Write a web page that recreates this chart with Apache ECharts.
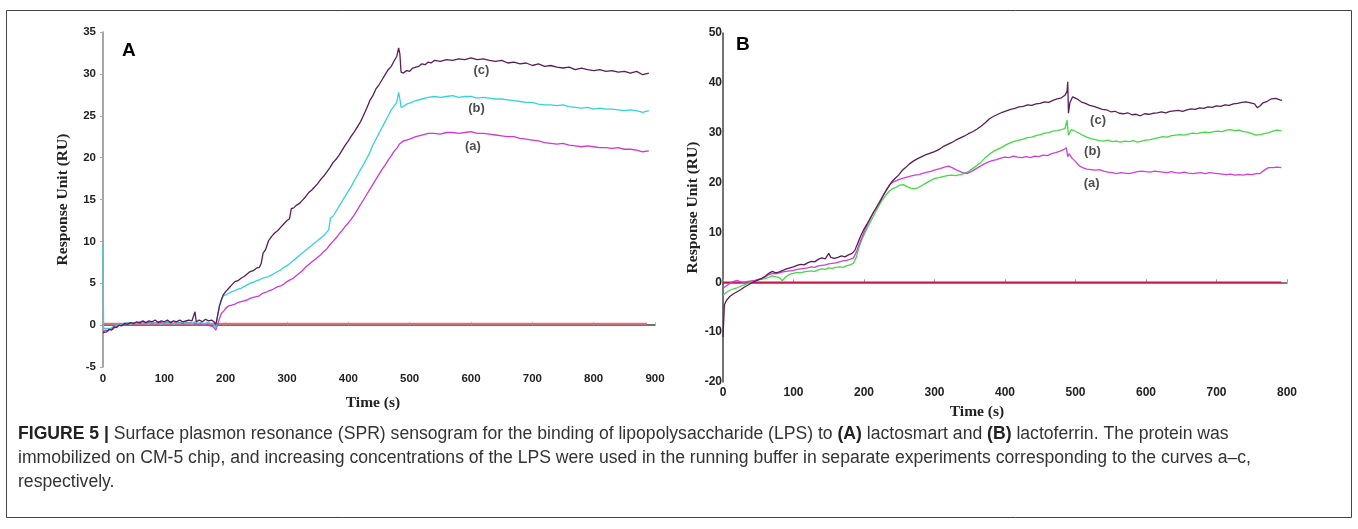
<!DOCTYPE html>
<html>
<head>
<meta charset="utf-8">
<script src="https://cdn.jsdelivr.net/npm/echarts@6/dist/echarts.min.js"></script>
<style>
  html, body { margin: 0; padding: 0; background: #fff; }
  #chart { width: 1358px; height: 529px; }
</style>
</head>
<body>
<div id="chart"></div>
<script>
// ---- panel A : lactosmart (time s, response RU) ----
var a_curveC = [[0,-0.9],[3,-0.7],[6,-0.8],[10,-0.5],[14,-0.6],[18,-0.2],[22,-0.3],[26,0.0],[30,-0.1],[35,0.2],[40,0.1],[45,0.3],[50,0.2],[55,0.4],[60,0.3],[65,0.5],[70,0.3],[75,0.5],[80,0.4],[85,0.6],[90,0.3],[95,0.5],[100,0.4],[105,0.6],[110,0.3],[115,0.5],[120,0.4],[125,0.6],[130,0.4],[135,0.5],[140,0.6],[145,0.5],[148,0.7],[150,1.6],[152,0.4],[157,0.6],[162,0.4],[167,0.7],[172,0.5],[177,0.6],[181,0.4],[184,0.1],
  [187,1.2],[190,2.3],[193,3.0],[196,3.6],[200,4.0],[205,4.4],[210,4.8],[215,5.2],[220,5.3],[225,5.6],[230,5.8],[235,6.1],[240,6.4],[245,6.5],[250,6.8],[255,6.9],[258,7.4],[261,8.6],[265,9.0],[270,10.1],[275,10.6],[280,11.0],[285,11.3],[290,11.7],[295,12.1],[300,12.5],[304,12.7],[307,13.9],[311,14.0],[315,14.3],[320,14.5],[325,14.9],[330,15.3],[335,15.8],[340,16.1],[345,16.5],[350,16.9],[355,17.4],[360,17.8],[365,18.3],[370,18.8],[375,19.4],[380,19.8],[385,20.3],[390,20.9],[395,21.5],[400,22.0],[405,22.6],[410,23.1],[415,23.7],[420,24.3],[425,25.1],[430,25.9],[435,26.8],[440,27.4],[445,28.2],[450,28.7],[455,29.3],[460,29.9],[465,30.5],[470,30.9],[475,31.6],[479,32.1],[482,33.1],[484,32.4],[486,30.2],
  [490,30.1],[495,30.4],[500,30.3],[505,30.7],[510,30.8],[515,30.9],[520,31.2],[525,31.1],[530,31.4],[535,31.3],[540,31.6],[550,31.5],[560,31.7],[570,31.6],[580,31.8],[590,31.7],[600,31.9],[610,31.7],[620,31.8],[630,31.6],[640,31.5],[650,31.6],[660,31.3],[670,31.4],[680,31.2],[690,31.3],[700,31.0],[710,31.2],[720,30.9],[730,31.0],[740,30.8],[750,30.7],[760,30.8],[770,30.5],[780,30.7],[790,30.5],[800,30.4],[810,30.5],[820,30.3],[830,30.4],[840,30.2],[850,30.3],[860,30.1],[870,30.3],[880,29.9],[890,30.1]];

var a_curveB = [[0,9.6],[1,-0.4],[4,-0.6],[8,-0.4],[12,-0.5],[16,-0.2],[20,-0.1],[25,0.1],[30,0.0],[35,0.2],[40,0.3],[45,0.1],[50,0.3],[55,0.2],[60,0.4],[65,0.2],[70,0.3],[75,0.1],[80,0.4],[85,0.2],[90,0.3],[95,0.1],[100,0.3],[105,0.2],[110,0.4],[115,0.1],[120,0.3],[125,0.2],[130,0.4],[135,0.2],[140,0.3],[145,0.1],[150,0.4],[155,0.2],[160,0.3],[165,0.1],[170,0.3],[175,0.2],[180,0.1],[184,-0.3],
  [187,1.2],[190,2.4],[193,3.1],[196,3.5],[200,3.6],[205,3.8],[210,4.0],[215,4.1],[220,4.3],[225,4.4],[230,4.6],[235,4.8],[240,5.0],[245,5.1],[250,5.3],[255,5.4],[260,5.6],[265,5.7],[270,5.8],[275,6.0],[280,6.2],[285,6.4],[290,6.6],[295,6.9],[300,7.1],[305,7.4],[310,7.7],[315,8.0],[320,8.3],[325,8.6],[330,8.9],[335,9.2],[340,9.5],[345,9.8],[350,10.1],[355,10.4],[360,10.7],[365,11.1],[368,11.4],[371,12.8],[375,13.0],[380,13.6],[385,14.2],[390,14.8],[395,15.4],[400,16.0],[405,16.6],[410,17.3],[415,17.9],[420,18.6],[425,19.2],[430,19.9],[435,20.6],[440,21.5],[445,22.2],[450,22.9],[455,23.6],[460,24.3],[465,25.0],[470,25.7],[475,26.2],[479,26.6],[482,27.8],[484,27.0],[486,26.0],
  [490,26.1],[495,26.4],[500,26.5],[510,26.8],[520,27.0],[530,27.2],[540,27.3],[550,27.2],[560,27.3],[570,27.4],[580,27.2],[590,27.3],[600,27.3],[610,27.1],[620,27.2],[630,27.1],[640,27.0],[650,27.0],[660,26.9],[670,26.8],[680,26.7],[690,26.6],[700,26.6],[710,26.4],[720,26.3],[730,26.3],[740,26.2],[750,26.3],[760,26.1],[770,26.0],[780,25.9],[790,26.0],[800,25.8],[810,25.9],[820,25.8],[830,25.8],[840,25.7],[850,25.6],[860,25.7],[870,25.6],[880,25.4],[890,25.6]];

var a_curveA = [[0,-0.8],[4,-0.6],[8,-0.7],[12,-0.4],[16,-0.5],[20,-0.2],[25,-0.1],[30,0.1],[35,0.0],[40,0.2],[45,0.3],[50,0.1],[55,0.3],[60,0.2],[65,0.4],[70,0.2],[75,0.3],[80,0.4],[85,0.2],[90,0.4],[95,0.3],[100,0.2],[105,0.4],[110,0.3],[115,0.2],[120,0.4],[125,0.3],[130,0.2],[135,0.4],[140,0.3],[145,0.2],[150,0.3],[155,0.1],[160,0.2],[165,0.0],[170,0.1],[175,-0.1],[180,-0.2],[184,-0.6],
  [187,0.1],[190,0.8],[193,1.4],[197,1.7],[200,2.0],[205,2.3],[210,2.4],[215,2.5],[220,2.7],[225,2.8],[230,2.9],[235,3.0],[240,3.2],[245,3.3],[250,3.4],[255,3.5],[260,3.8],[265,3.9],[270,4.1],[275,4.2],[280,4.4],[285,4.6],[290,4.7],[295,4.9],[300,5.2],[305,5.4],[310,5.6],[315,5.9],[320,6.2],[325,6.5],[330,6.9],[335,7.2],[340,7.5],[345,7.8],[350,8.1],[355,8.4],[360,8.8],[365,9.1],[370,9.6],[375,10.0],[380,10.4],[385,10.9],[390,11.3],[395,11.8],[400,12.2],[405,12.7],[410,13.2],[415,13.8],[420,14.4],[425,15.0],[430,15.6],[435,16.2],[440,16.8],[445,17.4],[450,18.0],[455,18.6],[460,19.1],[465,19.7],[470,20.2],[475,20.8],[480,21.2],[483,21.6],[486,21.4],
  [490,22.0],[495,22.1],[500,22.2],[510,22.5],[520,22.7],[530,22.9],[540,22.9],[550,22.8],[560,23.0],[570,23.0],[580,22.9],[590,23.0],[600,23.1],[610,22.9],[620,22.9],[630,22.8],[640,22.7],[650,22.6],[660,22.5],[670,22.5],[680,22.3],[690,22.2],[700,22.1],[710,22.0],[720,21.8],[730,21.7],[740,21.6],[750,21.7],[760,21.5],[770,21.4],[780,21.3],[790,21.4],[800,21.3],[810,21.2],[820,21.2],[830,21.1],[840,21.2],[850,21.0],[860,21.0],[870,20.9],[880,20.7],[890,20.8]];

var a_baseline = [[0,0.15],[887,0.15]];
var a_labelNames = ['(c)', '(b)', '(a)'];
var a_labelAt = [[617,30.4],[609,25.9],[603,21.3]];

// ---- panel B : lactoferrin ----
var b_curveC = [[0,-11],[2,-4.5],[5,-3.6],[10,-2.8],[15,-2.3],[20,-1.9],[25,-1.5],[30,-1.0],[35,-0.6],[40,-0.2],[45,0.2],[50,0.5],[55,0.8],[60,1.2],[65,1.8],[70,2.2],[75,1.9],[80,2.1],[85,2.4],[90,2.7],[95,2.9],[100,3.1],[105,3.4],[110,3.6],[115,3.5],[120,3.9],[125,4.2],[130,4.1],[135,4.6],[140,4.9],[145,4.7],[150,5.8],[153,5.0],[158,4.8],[163,5.0],[168,5.3],[173,5.1],[178,5.5],[183,5.8],[187,6.4],[191,7.8],[195,9.2],[199,10.4],[204,11.6],[209,12.9],[214,14.2],[219,15.3],[224,16.5],[229,17.8],[234,19.0],[239,20.1],[244,20.8],[249,21.5],[254,22.4],[259,23.0],[264,23.7],[270,24.3],[276,24.8],[282,25.2],[288,25.6],[294,25.9],[300,26.2],[306,26.6],[312,27.2],[318,27.6],[324,28.0],[330,28.5],[336,28.9],[342,29.3],[348,29.8],[354,30.2],[360,30.7],[366,31.3],[372,32.0],[378,32.8],[384,33.3],[390,33.7],[396,34.1],[402,34.4],[408,34.7],[414,34.9],[420,35.2],[426,35.3],[432,35.6],[438,35.5],[444,35.8],[450,35.9],[456,36.2],[462,36.1],[468,36.5],[474,36.8],[480,37.0],[485,37.5],[488,38.3],[489,40.2],[490,33.9],[492,36.0],[496,37.2],[502,36.8],[508,36.2],[514,35.9],[520,35.5],[526,35.3],[532,35.0],[538,34.7],[544,34.6],[550,34.2],[556,34.3],[562,33.9],[568,33.8],[574,34.0],[580,33.6],[586,33.7],[592,33.4],[598,33.8],[604,33.7],[610,33.9],[616,34.0],[622,34.2],[628,34.0],[634,34.3],[640,34.4],[646,34.5],[652,34.3],[658,34.6],[664,34.8],[670,34.7],[676,35.0],[682,34.9],[688,35.2],[694,35.1],[700,35.4],[706,35.3],[712,35.6],[718,35.5],[724,35.8],[730,35.9],[736,36.1],[742,36.2],[748,36.0],[754,35.8],[758,35.0],[762,35.4],[766,36.0],[772,36.3],[778,36.8],[784,36.9],[790,36.6],[793,36.5]];

var b_curveB = [[0,-2.6],[5,-2.0],[10,-1.6],[15,-1.3],[20,-1.1],[25,-0.8],[30,-0.5],[35,-0.2],[40,0.1],[45,0.3],[50,0.5],[55,0.6],[60,0.8],[65,1.0],[70,1.3],[75,1.1],[80,1.0],[84,0.3],[86,0.0],[88,0.9],[92,1.4],[96,1.7],[100,1.8],[105,2.0],[110,1.9],[115,2.1],[120,2.2],[125,2.3],[130,2.2],[135,2.5],[140,2.7],[145,2.6],[150,2.9],[155,2.8],[160,3.0],[165,3.1],[170,3.0],[175,3.3],[180,3.5],[185,3.8],[189,5.0],[193,7.0],[197,8.6],[201,9.8],[206,11.3],[211,12.6],[216,14.0],[221,15.3],[226,16.5],[231,17.5],[236,18.3],[241,18.8],[246,19.1],[251,19.5],[256,19.6],[261,19.2],[266,18.9],[271,18.8],[276,18.9],[282,19.4],[288,19.9],[294,20.4],[300,20.8],[306,21.0],[312,21.2],[318,21.4],[324,21.5],[330,21.4],[336,21.6],[342,21.8],[348,22.2],[354,22.8],[360,23.4],[366,24.1],[372,25.0],[378,25.7],[384,26.3],[390,26.7],[396,27.1],[402,27.6],[408,28.0],[414,28.3],[420,28.5],[426,28.7],[432,29.0],[438,29.1],[444,29.4],[450,29.6],[456,29.9],[462,30.0],[468,30.3],[474,30.4],[480,30.6],[485,30.8],[488,32.5],[490,29.5],[494,30.6],[498,30.4],[504,30.0],[510,29.5],[516,29.1],[522,28.8],[528,28.6],[534,28.4],[540,28.3],[546,28.5],[552,28.2],[558,28.3],[564,28.1],[570,28.3],[576,28.2],[582,28.4],[588,28.1],[594,28.3],[600,28.5],[606,28.6],[612,28.8],[618,29.0],[624,29.2],[630,29.1],[636,29.4],[642,29.5],[648,29.6],[654,29.5],[660,29.7],[666,29.9],[672,29.8],[678,30.0],[684,30.1],[690,30.0],[696,30.2],[702,30.3],[708,30.2],[714,30.5],[720,30.6],[726,30.4],[732,30.5],[738,30.2],[744,30.1],[750,29.8],[756,29.5],[762,29.6],[768,29.8],[774,30.0],[780,30.3],[786,30.5],[792,30.4]];

var b_curveA = [[0,-1.2],[3,-0.9],[6,-0.6],[10,-0.2],[15,0.2],[20,0.4],[25,0.1],[30,0.0],[35,0.2],[40,0.3],[45,0.4],[50,0.6],[55,0.8],[60,1.1],[65,1.5],[70,1.8],[75,1.7],[80,1.9],[85,2.1],[90,2.2],[95,2.3],[100,2.4],[105,2.6],[110,2.7],[115,2.8],[120,2.9],[125,3.1],[130,3.0],[135,3.3],[140,3.4],[145,3.5],[150,3.7],[155,3.8],[160,3.9],[165,4.1],[170,4.3],[175,4.4],[180,4.6],[185,4.9],[189,6.0],[193,7.6],[197,9.0],[201,10.4],[206,11.9],[211,13.3],[216,14.6],[221,15.9],[226,17.2],[231,18.4],[236,19.5],[241,20.1],[246,20.4],[251,20.7],[256,20.9],[261,21.1],[266,21.3],[272,21.5],[278,21.6],[284,21.9],[290,22.1],[296,22.3],[302,22.6],[308,22.8],[314,23.1],[320,23.3],[325,23.0],[330,22.6],[335,22.3],[340,22.0],[346,21.8],[352,22.2],[358,22.7],[364,23.2],[370,23.7],[376,24.1],[382,24.4],[388,24.6],[394,24.9],[400,25.1],[406,25.0],[412,25.3],[418,25.1],[424,25.0],[430,25.2],[436,25.0],[442,25.3],[448,25.2],[454,25.5],[460,25.4],[466,25.8],[472,26.0],[478,26.3],[483,26.6],[487,27.0],[489,25.2],[491,25.8],[495,24.9],[500,24.2],[505,23.4],[510,23.0],[516,22.7],[522,22.6],[528,22.5],[534,22.6],[540,22.3],[546,22.1],[552,22.0],[558,21.8],[564,22.0],[570,21.9],[576,21.8],[582,22.0],[588,22.2],[594,22.3],[600,22.2],[606,22.1],[612,22.3],[618,22.2],[624,22.1],[630,22.0],[636,22.2],[642,22.0],[648,21.9],[654,22.1],[660,21.9],[666,21.8],[672,21.9],[678,22.0],[684,21.8],[690,22.0],[696,21.9],[702,21.8],[708,21.7],[714,21.6],[720,21.7],[726,21.5],[732,21.6],[738,21.5],[744,21.7],[750,21.6],[756,21.8],[762,21.8],[766,22.3],[770,22.7],[774,23.0],[780,23.0],[786,23.1],[792,23.0]];

var b_baseline = [[0,0],[792,0]];
var b_labelNames = ['(c)', '(b)', '(a)'];
var b_labelAt = [[532,32.5],[524,26.2],[523,19.8]];

var captionLines = [
  '{b|FIGURE 5 |} Surface plasmon resonance (SPR) sensogram for the binding of lipopolysaccharide (LPS) to {b|(A)} lactosmart and {b|(B)} lactoferrin. The protein was',
  'immobilized on CM-5 chip, and increasing concentrations of the LPS were used in the running buffer in separate experiments corresponding to the curves a\u2013c,',
  'respectively.'
];

var chart = echarts.init(document.getElementById('chart'));

function line(data, color, xi, width) {
  return {
    type: 'line', data: data, xAxisIndex: xi, yAxisIndex: xi,
    showSymbol: false, symbol: 'none', silent: true,
    lineStyle: { color: color, width: width || 1.3 }
  };
}

function labels(names, pos, xi) {
  return {
    type: 'scatter', xAxisIndex: xi, yAxisIndex: xi, symbolSize: 0, silent: true,
    data: names.map(function (n, i) { return { name: n, value: pos[i] }; }),
    label: {
      show: true, position: 'inside', formatter: '{b}',
      fontFamily: 'Liberation Sans', fontWeight: 'bold', fontSize: 13, color: '#222'
    }
  };
}

var tickFont = { fontFamily: 'Liberation Sans', fontWeight: 'bold', color: '#222' };
var titleFont = { fontFamily: 'Liberation Serif', fontWeight: 'bold', fontSize: 15.5, color: '#222' };
var capSize = 17.6;

var option = {
  animation: false,
  grid: [
    { left: 103, right: 703, top: 32, bottom: 162 },
    { left: 723, right: 71, top: 33, bottom: 147 }
  ],
  xAxis: [
    {
      gridIndex: 0, type: 'value', min: 0, max: 900, interval: 100,
      axisLine: { lineStyle: { color: '#444', width: 1.5 } },
      axisTick: { inside: true, length: 3, lineStyle: { color: '#bbb' } },
      axisLabel: Object.assign({ fontSize: 11.5, margin: 6 }, tickFont),
      splitLine: { show: false },
      name: 'Time (s)', nameLocation: 'middle', nameGap: 28,
      nameTextStyle: Object.assign({ padding: [0, 12, 0, 0] }, titleFont)
    },
    {
      gridIndex: 1, type: 'value', min: 0, max: 800, interval: 100,
      axisLine: { lineStyle: { color: '#555', width: 1.5 } },
      axisTick: { inside: true, length: 3, lineStyle: { color: '#999' } },
      axisLabel: Object.assign({ fontSize: 12, margin: 5 }, tickFont),
      splitLine: { show: false },
      name: 'Time (s)', nameLocation: 'middle', nameGap: 18,
      nameTextStyle: Object.assign({ padding: [0, 56, 0, 0] }, titleFont)
    }
  ],
  yAxis: [
    {
      gridIndex: 0, type: 'value', min: -5, max: 35, interval: 5,
      axisLine: { show: true, lineStyle: { color: '#888', width: 1.5 } },
      axisTick: { show: true, length: 3, lineStyle: { color: '#aaa' } },
      axisLabel: Object.assign({ fontSize: 11.5, margin: 7 }, tickFont),
      splitLine: { show: false },
      name: 'Response Unit (RU)', nameLocation: 'middle', nameGap: 32, nameRotate: 90,
      nameTextStyle: titleFont
    },
    {
      gridIndex: 1, type: 'value', min: -20, max: 50, interval: 10,
      axisLine: { show: true, lineStyle: { color: '#444', width: 1.5 } },
      axisTick: { show: false },
      axisLabel: Object.assign({ fontSize: 12, margin: 1 }, tickFont),
      splitLine: { show: false },
      name: 'Response Unit (RU)', nameLocation: 'middle', nameGap: 14, nameRotate: 90,
      nameTextStyle: titleFont
    }
  ],
  series: [
    line(a_baseline, '#e0707c', 0, 2),
    line(a_curveA, '#cc3acc', 0),
    line(a_curveB, '#35d3d8', 0),
    line(a_curveC, '#5a1d5c', 0),
    labels(a_labelNames, a_labelAt, 0),
    line(b_baseline, '#c81848', 1, 1.5),
    line(b_curveB, '#45d845', 1),
    line(b_curveA, '#d23fd8', 1),
    line(b_curveC, '#5a1f5a', 1),
    labels(b_labelNames, b_labelAt, 1)
  ],
  graphic: [
    {
      type: 'rect', silent: true,
      shape: { x: 6.5, y: 10.5, width: 1345, height: 507 },
      style: { fill: 'none', stroke: '#444', lineWidth: 1 }
    },
    {
      type: 'text', left: 122, top: 41,
      style: { text: 'A', fontFamily: 'Liberation Sans', fontWeight: 'bold', fontSize: 19, fill: '#000' }
    },
    {
      type: 'text', left: 736, top: 35,
      style: { text: 'B', fontFamily: 'Liberation Sans', fontWeight: 'bold', fontSize: 19, fill: '#000' }
    }
  ].concat(captionLines.map(function (txt, i) {
    return {
      type: 'text', left: 18, top: 425 + i * 24,
      style: {
        text: txt, fontFamily: 'Liberation Sans', fontSize: capSize, fill: '#333',
        rich: { b: { fontFamily: 'Liberation Sans', fontWeight: 'bold', fontSize: capSize, fill: '#222' } }
      }
    };
  }))
};

chart.setOption(option);
</script>
</body>
</html>
